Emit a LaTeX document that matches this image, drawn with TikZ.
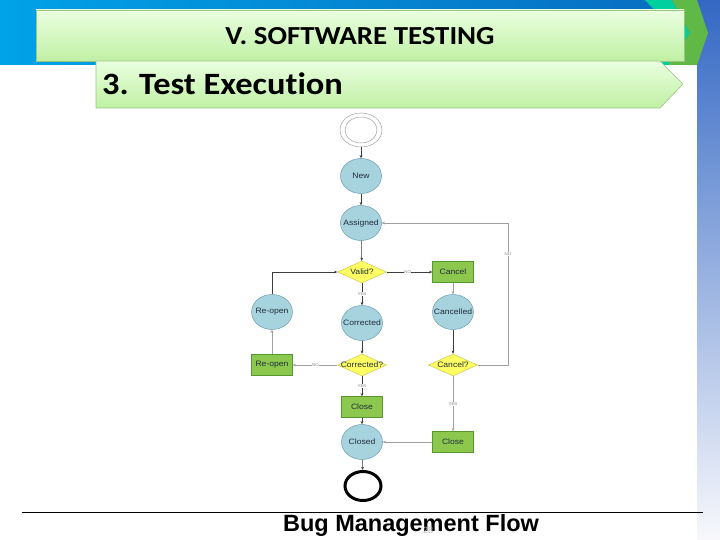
\documentclass[tikz,border=0pt]{standalone}
\usepackage{fontspec}
\setmainfont{Liberation Sans}
\newfontfamily\headfont[FakeStretch=1.11,Ligatures=NoCommon]{Carlito}
\newfontfamily\nodefont[FakeStretch=1.1]{Liberation Sans}
\usetikzlibrary{shapes.geometric,arrows.meta}
\newcommand\zw[1]{\makebox[0pt]{#1}}
\definecolor{bandL}{RGB}{0,162,232}
\definecolor{bandR}{RGB}{8,108,192}
\definecolor{barT}{RGB}{52,104,196}
\definecolor{barB}{RGB}{248,248,252}
\definecolor{hdrT}{RGB}{234,255,224}
\definecolor{hdrB}{RGB}{192,240,164}
\definecolor{hdrD}{RGB}{150,200,130}
\definecolor{tealc}{RGB}{0,208,160}
\definecolor{greenc}{RGB}{96,184,70}
\definecolor{ellF}{RGB}{167,211,222}
\definecolor{ellD}{RGB}{110,158,176}
\definecolor{diaF}{RGB}{255,255,100}
\definecolor{diaD}{RGB}{200,200,80}
\definecolor{recF}{RGB}{141,200,78}
\definecolor{recD}{RGB}{88,150,48}
\definecolor{ntext}{RGB}{30,45,60}
\definecolor{darkline}{RGB}{60,60,60}
\definecolor{grayline}{RGB}{160,160,160}
\tikzset{
  base/.style={inner sep=0pt, text=ntext, font=\nodefont\fontsize{7.8}{8}\selectfont},
  ell/.style={base, ellipse, draw=ellD, fill=ellF, line width=0.5pt, minimum width=41pt, minimum height=35pt},
  dia/.style={base, diamond, draw=diaD, fill=diaF, line width=0.5pt, minimum width=49pt, minimum height=22pt},
  rec/.style={base, rectangle, draw=recD, fill=recF, line width=0.5pt, minimum width=41pt, minimum height=21pt},
  darr/.style={draw=darkline, line width=0.5pt, -{Stealth[length=3.2pt,width=2.8pt]}},
  garr/.style={draw=grayline, line width=0.5pt, -{Stealth[length=3.2pt,width=2.8pt]}},
  lab/.style={fill=white, inner sep=0.5pt, text=gray, font=\nodefont\fontsize{4}{4}\selectfont}
}
\begin{document}
\begin{tikzpicture}[x=1pt,y=-1pt]
\useasboundingbox (0,0) rectangle (720,540);
\fill[white] (0,0) rectangle (720,540);
% top band
\shade[left color=bandL, right color=bandR] (0,0) rectangle (697,65);
% right bar
\shade[top color=barT, bottom color=barB] (697,0) rectangle (720,540);
% decorative chevrons
\fill[tealc] (645,0) -- (672,0) -- (690,33) -- (668,65) -- (655,65) -- (676,33) -- cycle;
\fill[greenc] (672,0) -- (697,0) -- (708,33) -- (697,65) -- (668,65) -- (690,33) -- cycle;
% header box
\shade[top color=hdrT, bottom color=hdrB, draw=hdrD, line width=0.6pt] (36,10) rectangle (684,61);
\node (hdr) at (360,36) {\headfont\bfseries\fontsize{26}{30}\selectfont V. SOFTWARE TESTING};
% subtitle pentagon
\shade[top color=hdrT, bottom color=hdrB, draw=hdrD, line width=0.6pt] (96,61) -- (660,61) -- (683,84) -- (660,108) -- (96,108) -- cycle;
\node[anchor=base west, inner sep=0pt] (sub) at (102,95) {\headfont\bfseries\fontsize{31}{34}\selectfont 3. Test Execution};

% flowchart nodes
\node[ellipse, draw=grayline, line width=0.5pt, minimum width=42pt, minimum height=34pt, inner sep=0pt] (start) at (361,130) {};
\node[ellipse, draw=grayline, line width=0.5pt, minimum width=32pt, minimum height=26pt, inner sep=0pt] (startin) at (361,130) {};
\node[ell] (new) at (361,176) {\zw{New}};
\node[ell] (assigned) at (361,223) {\zw{Assigned}};
\node[dia] (valid) at (362,272) {\zw{Valid?}};
\node[rec] (cancel) at (453,272) {\zw{Cancel}};
\node[ell] (reopenc) at (272,312) {\zw{Re-open}};
\node[ell] (corrected) at (362,323) {\zw{Corrected}};
\node[ell] (cancelled) at (453,312) {\zw{Cancelled}};
\node[rec] (reopenr) at (272,365) {\zw{Re-open}};
\node[dia] (correctedq) at (362,365) {\zw{Corrected?}};
\node[dia] (cancelq) at (453,365) {\zw{Cancel?}};
\node[rec] (closel) at (362,407) {\zw{Close}};
\node[ell] (closed) at (362,442) {\zw{Closed}};
\node[rec] (closer) at (453,442) {\zw{Close}};
\node[ellipse, draw=black, line width=3pt, minimum width=36pt, minimum height=29pt, inner sep=0pt] (end) at (363,486) {};
\coordinate (loop) at (508,223);

% connectors
\draw[darr] (start) -- (new);
\draw[darr] (new) -- (assigned);
\draw[darr] (assigned) -- (valid);
\draw[darr] (valid) -- node[lab, pos=0.46]{NO} (cancel);
\draw[darr] (valid) -- node[lab]{YES} (corrected);
\draw[darr] (reopenc) |- (valid);
\draw[garr] (reopenr) -- (reopenc);
\draw[darr] (corrected) -- (correctedq);
\draw[garr] (correctedq) -- node[lab, pos=0.49]{NO} (reopenr);
\draw[darr] (correctedq) -- node[lab]{YES} (closel);
\draw[darr] (closel) -- (closed);
\draw[darr] (closed) -- (end);
\draw[garr] (cancel) -- (cancelled);
\draw[darr] (cancelled) -- (cancelq);
\draw[garr] (cancelq) -- node[lab]{YES} (closer);
\draw[garr] (closer) -- (closed);
\draw[garr] (cancelq) -| node[lab, pos=0.89]{NO} (loop) -- (assigned);

% bottom rule and caption
\draw[line width=0.8pt] (22,512) -- (703,512);
\node[anchor=base, inner sep=0pt] (caption) at (411,531) {\bfseries\fontsize{23.5}{28}\selectfont Bug Management Flow};
\node[anchor=base, inner sep=0pt, text=gray!60] (pageno) at (428,533) {\fontsize{9}{10}\selectfont 28};
\end{tikzpicture}
\end{document}
